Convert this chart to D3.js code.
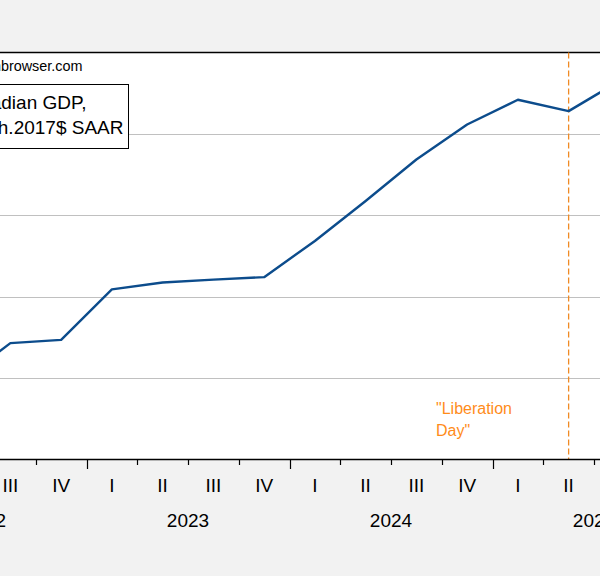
<!doctype html>
<html>
<head>
    <script src="https://d3js.org/d3.v7.min.js"></script>
    <style>
        body { margin: 0; background: #f2f2f2; }
        text { font-family: Arial, "Liberation Sans", sans-serif; }
    </style>
</head>
<body>
    <script>
        var width = 600;
        var height = 576;

        // quarterly data, Canadian real GDP (bn. Ch.2017$ SAAR)
        var quarters = ["2022Q2", "2022Q3", "2022Q4", "2023Q1", "2023Q2", "2023Q3", "2023Q4",
                        "2024Q1", "2024Q2", "2024Q3", "2024Q4", "2025Q1", "2025Q2", "2025Q3"];
        var gdp = [2239.0, 2248.6, 2249.4, 2261.8, 2263.5, 2264.2, 2264.8,
                   2273.7, 2283.5, 2293.7, 2302.3, 2308.4, 2305.6, 2313.0];

        var quarterLabels = ["I", "II", "III", "IV"];
        var years = [2022, 2023, 2024, 2025];
        var gridValues = [2240, 2260, 2280, 2300];
        var eventQuarter = "2025Q2";

        // quarter index: 2022Q1 = 0
        function qIndex(s) {
            return (+s.slice(0, 4) - 2022) * 4 + (+s.slice(5) - 1);
        }

        var xScale = d3.scaleLinear()
                        .domain([3.5, 7.5])
                        .range([86.5, 289.5]);
        var yScale = d3.scaleLinear()
                        .domain([2220, 2320])
                        .range([459.5, 52.5]);

        var svg = d3.select("body")
                    .append("svg")
                    .attr("width", width)
                    .attr("height", height)
                    .style("display", "block")
                    .style("background", "#f2f2f2");

        // plot area
        svg.append("rect")
           .attr("x", -10)
           .attr("y", yScale(2320))
           .attr("width", width + 20)
           .attr("height", yScale(2220) - yScale(2320))
           .attr("fill", "white");

        // gridlines
        svg.selectAll("line.grid")
           .data(gridValues)
           .enter()
           .append("line")
           .attr("class", "grid")
           .attr("x1", -10)
           .attr("x2", width + 10)
           .attr("y1", function(d){ return Math.round(yScale(d)) + 0.5; })
           .attr("y2", function(d){ return Math.round(yScale(d)) + 0.5; })
           .attr("stroke", "#c0c0c0")
           .attr("stroke-width", 1);

        // top border
        svg.append("line")
           .attr("x1", -10).attr("x2", width + 10)
           .attr("y1", yScale(2320)).attr("y2", yScale(2320))
           .attr("stroke", "black").attr("stroke-width", 1.5);

        // event line ("Liberation Day")
        var ex = xScale(qIndex(eventQuarter));
        svg.append("line")
           .attr("x1", ex).attr("x2", ex)
           .attr("y1", yScale(2320)).attr("y2", yScale(2220))
           .attr("stroke", "#f08a24")
           .attr("stroke-width", 1.3)
           .attr("stroke-dasharray", "6,3");

        svg.append("text")
           .attr("x", 436)
           .attr("y", 414)
           .attr("font-size", "16px")
           .attr("fill", "#ff8c1a")
           .text("\"Liberation");
        svg.append("text")
           .attr("x", 436)
           .attr("y", 435.5)
           .attr("font-size", "16px")
           .attr("fill", "#ff8c1a")
           .text("Day\"");

        // GDP line
        var line = d3.line()
                     .x(function(d, i){ return xScale(qIndex(quarters[i])); })
                     .y(function(d){ return yScale(d); });

        svg.append("path")
           .datum(gdp)
           .attr("d", line)
           .attr("fill", "none")
           .attr("stroke", "#0c4c8c")
           .attr("stroke-width", 2.4)
           .attr("stroke-linejoin", "round");

        // x axis line
        svg.append("line")
           .attr("x1", -10).attr("x2", width + 10)
           .attr("y1", yScale(2220)).attr("y2", yScale(2220))
           .attr("stroke", "black").attr("stroke-width", 1.5);

        // quarter ticks and labels (only the quarters in view)
        var shownQ = d3.range(2, 14);
        svg.selectAll("line.tick")
           .data(d3.range(0, 17))
           .enter()
           .append("line")
           .attr("class", "tick")
           .attr("x1", function(d){ return Math.round(xScale(d - 0.5)) + 0.5; })
           .attr("x2", function(d){ return Math.round(xScale(d - 0.5)) + 0.5; })
           .attr("y1", yScale(2220))
           .attr("y2", function(d){ return yScale(2220) + (d % 4 === 0 ? 9.5 : 5.5); })
           .attr("stroke", "black")
           .attr("stroke-width", 1.2);

        svg.selectAll("text.qlab")
           .data(shownQ)
           .enter()
           .append("text")
           .attr("class", "qlab")
           .attr("x", function(d){ return xScale(d); })
           .attr("y", 491.5)
           .attr("text-anchor", "middle")
           .attr("font-size", "19px")
           .attr("fill", "black")
           .text(function(d){ return quarterLabels[d % 4]; });

        svg.selectAll("text.ylab")
           .data(years)
           .enter()
           .append("text")
           .attr("class", "ylab")
           .attr("x", function(d){ return xScale((d - 2022) * 4 + 1.5); })
           .attr("y", 527)
           .attr("text-anchor", "middle")
           .attr("font-size", "19px")
           .attr("fill", "black")
           .text(function(d){ return d; });

        // source note
        svg.append("text")
           .attr("x", 82.5)
           .attr("y", 70.7)
           .attr("text-anchor", "end")
           .attr("font-size", "14.4px")
           .attr("fill", "black")
           .text("Source: econbrowser.com");

        // legend box
        svg.append("rect")
           .attr("x", -60.5)
           .attr("y", 84.5)
           .attr("width", 189)
           .attr("height", 64)
           .attr("fill", "white")
           .attr("stroke", "black")
           .attr("stroke-width", 1);

        svg.append("text")
           .attr("x", 86.5)
           .attr("y", 108.5)
           .attr("text-anchor", "end")
           .attr("font-size", "19px")
           .attr("fill", "black")
           .text("Canadian GDP,");
        svg.append("text")
           .attr("x", 123.5)
           .attr("y", 134.3)
           .attr("text-anchor", "end")
           .attr("font-size", "19px")
           .attr("fill", "black")
           .text("bn.Ch.2017$ SAAR");
    </script>
</body>
</html>
